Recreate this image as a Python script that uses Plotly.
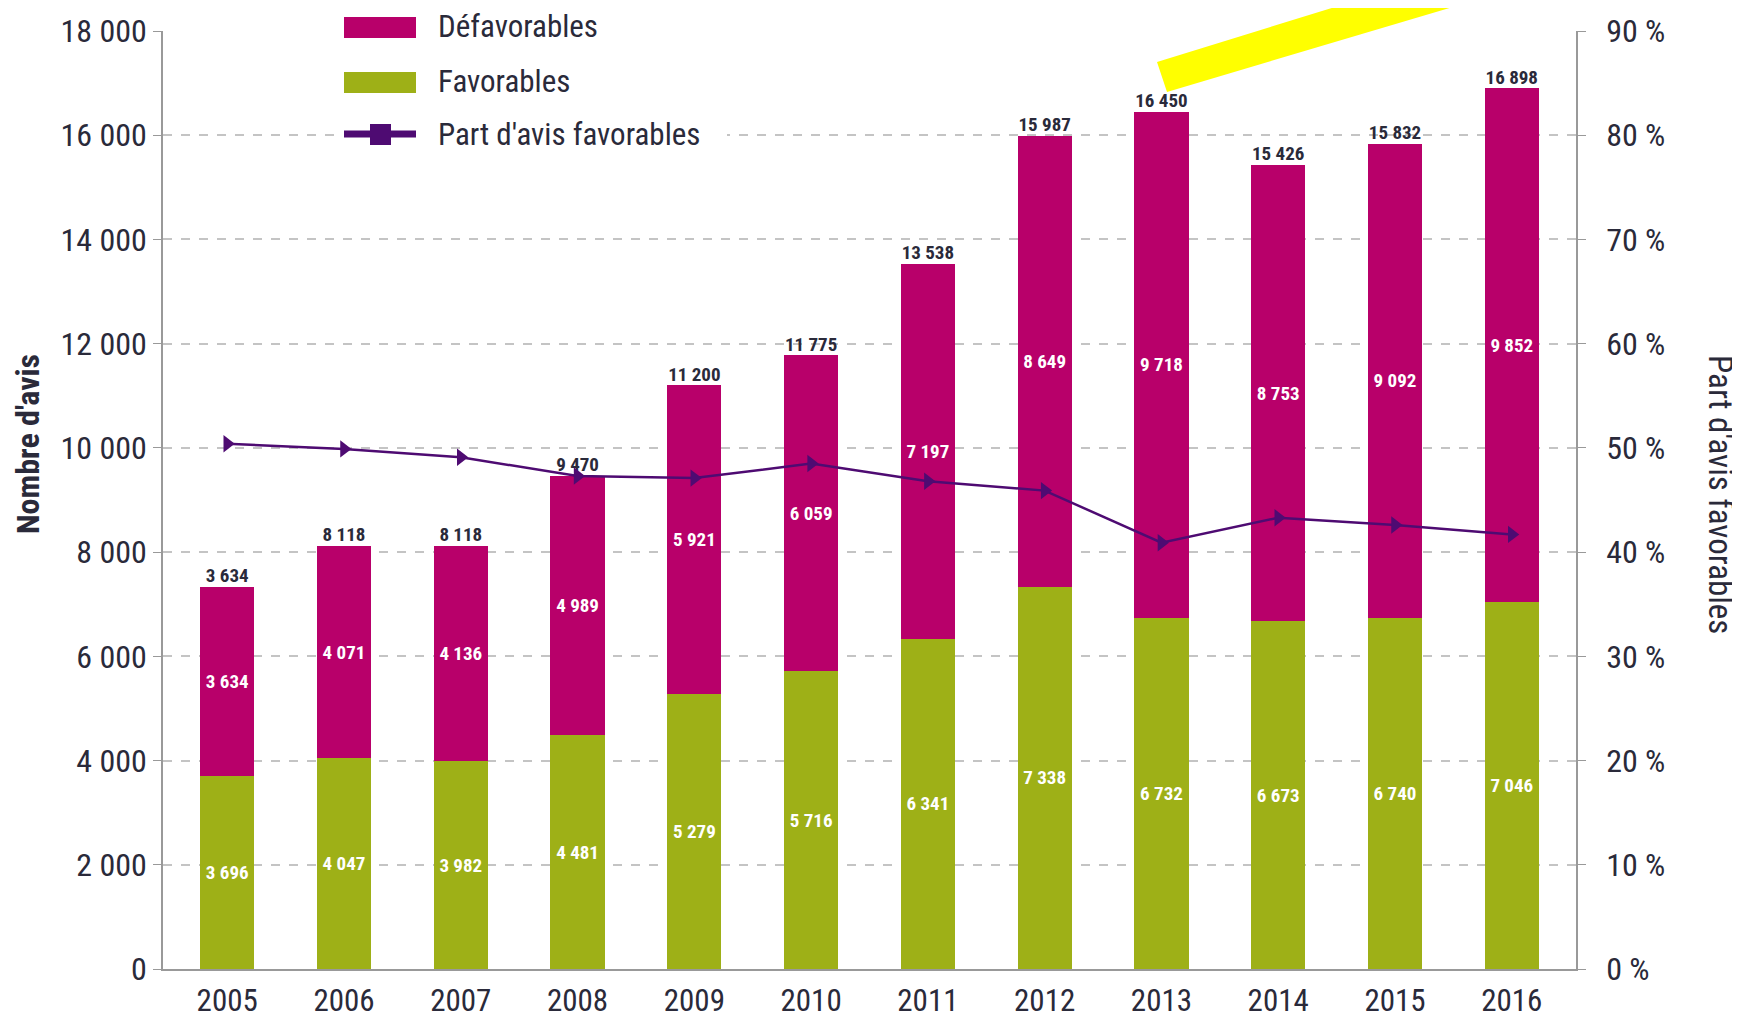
import plotly.graph_objects as go

years = ["2005", "2006", "2007", "2008", "2009", "2010", "2011", "2012", "2013", "2014", "2015", "2016"]
favorables = [3696, 4047, 3982, 4481, 5279, 5716, 6341, 7338, 6732, 6673, 6740, 7046]
defavorables = [3634, 4071, 4136, 4989, 5921, 6059, 7197, 8649, 9718, 8753, 9092, 9852]
total_labels = ["3 634", "8 118", "8 118", "9 470", "11 200", "11 775", "13 538",
                "15 987", "16 450", "15 426", "15 832", "16 898"]
part_favorables = [50.4, 49.9, 49.1, 47.3, 47.1, 48.5, 46.8, 45.9, 40.9, 43.3, 42.6, 41.7]
left_ticks = [0, 2000, 4000, 6000, 8000, 10000, 12000, 14000, 16000, 18000]
right_ticks = [0, 10, 20, 30, 40, 50, 60, 70, 80, 90]
right_tick_text = ["0 %", "10 %", "20 %", "30 %", "40 %", "50 %", "60 %", "70 %", "80 %", "90 %"]

FONT = "Liberation Sans Narrow, Arial Narrow, Roboto Condensed, Roboto, sans-serif"
C_DEF = "#B8006A"
C_FAV = "#9EB017"
C_LINE = "#4E0B72"
C_TXT = "#2A2A3A"

totals = [f + d for f, d in zip(favorables, defavorables)]

fig = go.Figure()
fig.add_trace(go.Bar(
    x=years, y=favorables, name="Favorables", marker=dict(color=C_FAV, line=dict(width=0)),
    texttemplate="%{y:,}", textposition="inside", insidetextanchor="middle", textangle=0,
    textfont=dict(family=FONT, size=19, color="white", weight="bold"), constraintext="none",
    showlegend=False,
))
fig.add_trace(go.Bar(
    x=years, y=defavorables, name="Défavorables", marker=dict(color=C_DEF, line=dict(width=0)),
    texttemplate="%{y:,}", textposition="inside", insidetextanchor="middle", textangle=0,
    textfont=dict(family=FONT, size=19, color="white", weight="bold"), constraintext="none",
    showlegend=False,
))
fig.add_trace(go.Scatter(
    x=years, y=totals, mode="text", text=total_labels, textposition="top center",
    textfont=dict(family=FONT, size=19, color=C_TXT, weight="bold"), showlegend=False,
    cliponaxis=False,
))
fig.add_trace(go.Scatter(
    x=years, y=part_favorables, yaxis="y2", mode="lines+markers", name="Part d'avis favorables",
    line=dict(color=C_LINE, width=2.5),
    marker=dict(symbol="triangle-right", size=15, color=C_LINE),
    showlegend=False, cliponaxis=False,
))

# page offset (default body margin of the html page)
OFF = 8
FW, FH = 1740 - OFF, 1022 - OFF
# plot area in page pixels
PL, PR, PT, PB = 163, 1576, 31, 969
L, R, T, B = PL - OFF, PR - OFF, PT - OFF, PB - OFF
W, H = R - L, B - T
def px(x):
    return (x - OFF - L) / W
def py(y):
    return (B - (y - OFF)) / H

shapes = []
# legend background
shapes.append(dict(type="rect", xref="paper", yref="paper", x0=px(338), x1=px(727), y0=py(160), y1=py(-5),
                   fillcolor="white", line=dict(width=0), layer="above"))
shapes.append(dict(type="rect", xref="paper", yref="paper", x0=px(344), x1=px(416), y0=py(38), y1=py(17),
                   fillcolor=C_DEF, line=dict(width=0), layer="above"))
shapes.append(dict(type="rect", xref="paper", yref="paper", x0=px(344), x1=px(416), y0=py(93), y1=py(72),
                   fillcolor=C_FAV, line=dict(width=0), layer="above"))
shapes.append(dict(type="line", xref="paper", yref="paper", x0=px(344), x1=px(416), y0=py(134), y1=py(134),
                   line=dict(color=C_LINE, width=7), layer="above"))
shapes.append(dict(type="rect", xref="paper", yref="paper", x0=px(370), x1=px(391), y0=py(145), y1=py(124),
                   fillcolor=C_LINE, line=dict(width=0), layer="above"))
# yellow highlight stroke
shapes.append(dict(type="path", xref="paper", yref="paper",
                   path=f"M {px(1157)},{py(62)} L {px(1167)},{py(92)} L {px(1510)},{py(-10)} L {px(1390)},{py(-10)} Z",
                   fillcolor="#FFFF00", line=dict(width=0), layer="above"))

annotations = []
for label, yy in [("Défavorables", 27), ("Favorables", 82), ("Part d'avis favorables", 134)]:
    annotations.append(dict(xref="paper", yref="paper", x=px(436), y=py(yy), text=label, showarrow=False,
                            xanchor="left", yanchor="middle", font=dict(family=FONT, size=31, color=C_TXT)))
annotations.append(dict(xref="paper", yref="paper", x=px(28), y=py(444), text="Nombre d'avis", showarrow=False,
                        textangle=-90, xanchor="center", yanchor="middle",
                        font=dict(family=FONT, size=32, color=C_TXT, weight="bold")))
annotations.append(dict(xref="paper", yref="paper", x=px(1720), y=py(494), text="Part d'avis favorables",
                        showarrow=False, textangle=90, xanchor="center", yanchor="middle",
                        font=dict(family=FONT, size=33, color=C_TXT)))

fig.update_layout(
    width=FW, height=FH,
    margin=dict(l=L, r=FW - R, t=T, b=FH - B),
    barmode="stack", bargap=0.535,
    plot_bgcolor="white", paper_bgcolor="white",
    separators=", ",
    font=dict(family=FONT, color=C_TXT),
    xaxis=dict(type="category", range=[-0.55, 11.55], showgrid=False, showline=True, linecolor="#999999",
               linewidth=1.5, ticks="", tickfont=dict(size=31, color=C_TXT), ticklabelstandoff=3,
               automargin=False, zeroline=False),
    yaxis=dict(range=[0, 18000], tickvals=left_ticks, tickformat=",", showgrid=True, gridcolor="#C4C4C4",
               griddash="dash", gridwidth=1.5, showline=True, linecolor="#999999", linewidth=1.5,
               ticks="outside", ticklen=8, tickcolor="#999999", tickfont=dict(size=32, color=C_TXT),
               automargin=False, zeroline=False),
    yaxis2=dict(range=[0, 90], tickvals=right_ticks, ticktext=right_tick_text, overlaying="y", side="right",
                showgrid=False, showline=True, linecolor="#999999", linewidth=1.5, ticks="outside",
                ticklen=8, tickcolor="#999999", tickfont=dict(size=32, color=C_TXT), ticklabelstandoff=14,
                automargin=False, zeroline=False),
    shapes=shapes, annotations=annotations, showlegend=False,
)

fig.write_html("out.html")
